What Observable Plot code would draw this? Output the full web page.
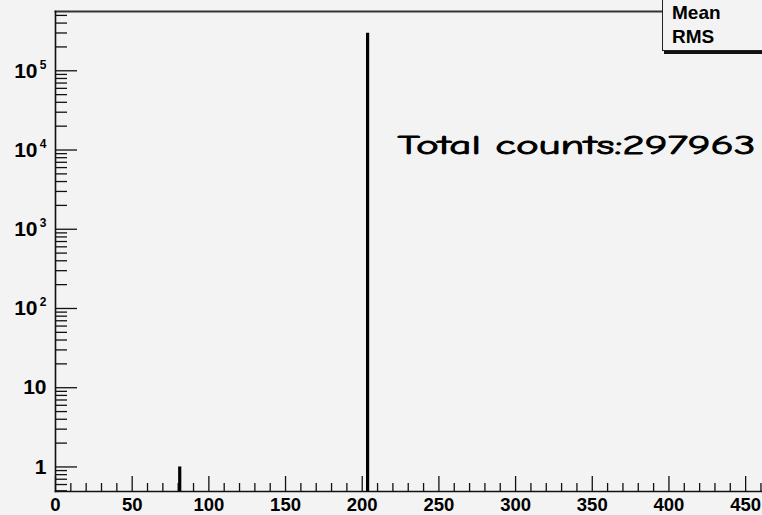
<!DOCTYPE html>
<html>
<head>
<meta charset="utf-8">
<script src="https://cdn.jsdelivr.net/npm/d3@7"></script>
<script src="https://cdn.jsdelivr.net/npm/@observablehq/plot@0.6"></script>
<style>
  html, body { margin: 0; padding: 0; background: #f3f3f3; overflow: hidden; }
  #wrap { position: relative; width: 762px; height: 515px; }
  #stats {
    position: absolute; left: 662px; top: -30px; width: 140px; height: 79px;
    border: 1.5px solid #222; background: #f3f3f3;
    box-shadow: 2px 3px 0 #111;
    font-family: "Liberation Sans", Arial, sans-serif; font-weight: bold; font-size: 19px;
  }
  #stats div { position: absolute; left: 9px; }
</style>
</head>
<body>
<div id="wrap"></div>
<script>
// Histogram content (bin centre -> counts)
const binCenters = [81, 203.5];
const binCounts = [1, 297962];
const totalCounts = d3.sum(binCounts);

// Axis ranges
const xDomain = [0, 461];
const yDomain = [0.49, 5.6e5];

// Tick values
const xMajorTicks = [0, 50, 100, 150, 200, 250, 300, 350, 400, 450];
const xMinorTicks = d3.range(10, 461, 10).filter(v => v % 50 !== 0);
const yMajorTicks = [1, 10, 1e2, 1e3, 1e4, 1e5];
const yMinorTicks = [0.5, 0.6, 0.7, 0.8, 0.9]
  .concat(...[1, 10, 1e2, 1e3, 1e4].map(d => [2,3,4,5,6,7,8,9].map(m => m * d)))
  .concat([2e5, 3e5, 4e5, 5e5]);
const yLabelBase = ["1", "10", "10", "10", "10", "10"];
const yLabelExp = ["", "", "2", "3", "4", "5"];

// Stats box rows
const statsRows = ["Mean", "RMS"];

// Annotation
const annotation = {x: 223, y: 9000, text: `Total counts:${totalCounts}`};

const hist = binCenters.map((x, i) => ({x, count: binCounts[i]}));
const yLabels = yMajorTicks.map((v, i) => ({v, base: yLabelBase[i], exp: yLabelExp[i]}));

const W = 762, H = 515, mL = 55, mT = 11, mB = 24, mR = 0;
const fw = W - mL - mR, fh = H - mT - mB;
const font = "Liberation Sans, Arial, Helvetica, sans-serif";

const plot = Plot.plot({
  width: W, height: H,
  marginLeft: mL, marginTop: mT, marginBottom: mB, marginRight: mR,
  style: {background: "#f3f3f3", fontFamily: font, overflow: "visible"},
  x: {domain: xDomain, axis: null},
  y: {type: "log", domain: yDomain, axis: null},
  marks: [
    Plot.frame({anchor: "top", stroke: "#333", strokeWidth: 2}),
    Plot.ruleX(xMinorTicks, {stroke: "#111", strokeWidth: 1.3, insetTop: fh - 8}),
    Plot.ruleX(xMajorTicks, {stroke: "#111", strokeWidth: 1.3, insetTop: fh - 15}),
    Plot.ruleY(yMinorTicks, {stroke: "#111", strokeWidth: 1.3, insetRight: fw - 12}),
    Plot.ruleY(yMajorTicks, {stroke: "#111", strokeWidth: 1.3, insetRight: fw - 22}),
    Plot.ruleX(hist, {x: "x", y1: yDomain[0], y2: "count", stroke: "#000", strokeWidth: 3.2}),
    Plot.frame({anchor: "left", stroke: "#111", strokeWidth: 1.6}),
    Plot.frame({anchor: "bottom", stroke: "#111", strokeWidth: 1.6}),
    Plot.text(xMajorTicks, {x: d => d, frameAnchor: "bottom", lineAnchor: "middle", dy: 13.5,
      text: d => String(d), fontSize: 18.5, fontWeight: "bold", fill: "#000"}),
    Plot.text(yLabels.filter(d => !d.exp), {y: "v", text: "base", frameAnchor: "left",
      textAnchor: "end", lineAnchor: "middle", dx: -9, fontSize: 21, fontWeight: "bold", fill: "#000"}),
    Plot.text(yLabels.filter(d => d.exp), {y: "v", text: "base", frameAnchor: "left",
      textAnchor: "end", lineAnchor: "middle", dx: -18, fontSize: 21, fontWeight: "bold", fill: "#000"}),
    Plot.text(yLabels.filter(d => d.exp), {y: "v", text: "exp", frameAnchor: "left",
      textAnchor: "end", lineAnchor: "middle", dx: -9, dy: -6, fontSize: 12, fontWeight: "bold", fill: "#000"}),
    Plot.text([annotation], {x: "x", y: "y", text: "text", textAnchor: "start", lineAnchor: "bottom",
      fontSize: 27, fill: "#000", stroke: "#000", strokeWidth: 0.9,
      fontFamily: "Comic Sans MS, Comic Neue, Noto Sans, sans-serif",
      className: "annot"})
  ]
});

const wrap = document.getElementById("wrap");
wrap.appendChild(plot);
d3.select(plot).selectAll(".annot text").attr("textLength", 358).attr("lengthAdjust", "spacingAndGlyphs");

const box = document.createElement("div");
box.id = "stats";
statsRows.forEach((r, i) => {
  const d = document.createElement("div");
  d.textContent = r;
  d.style.top = (30 + 1 + i * 24) + "px";
  box.appendChild(d);
});
wrap.appendChild(box);
</script>
</body>
</html>
